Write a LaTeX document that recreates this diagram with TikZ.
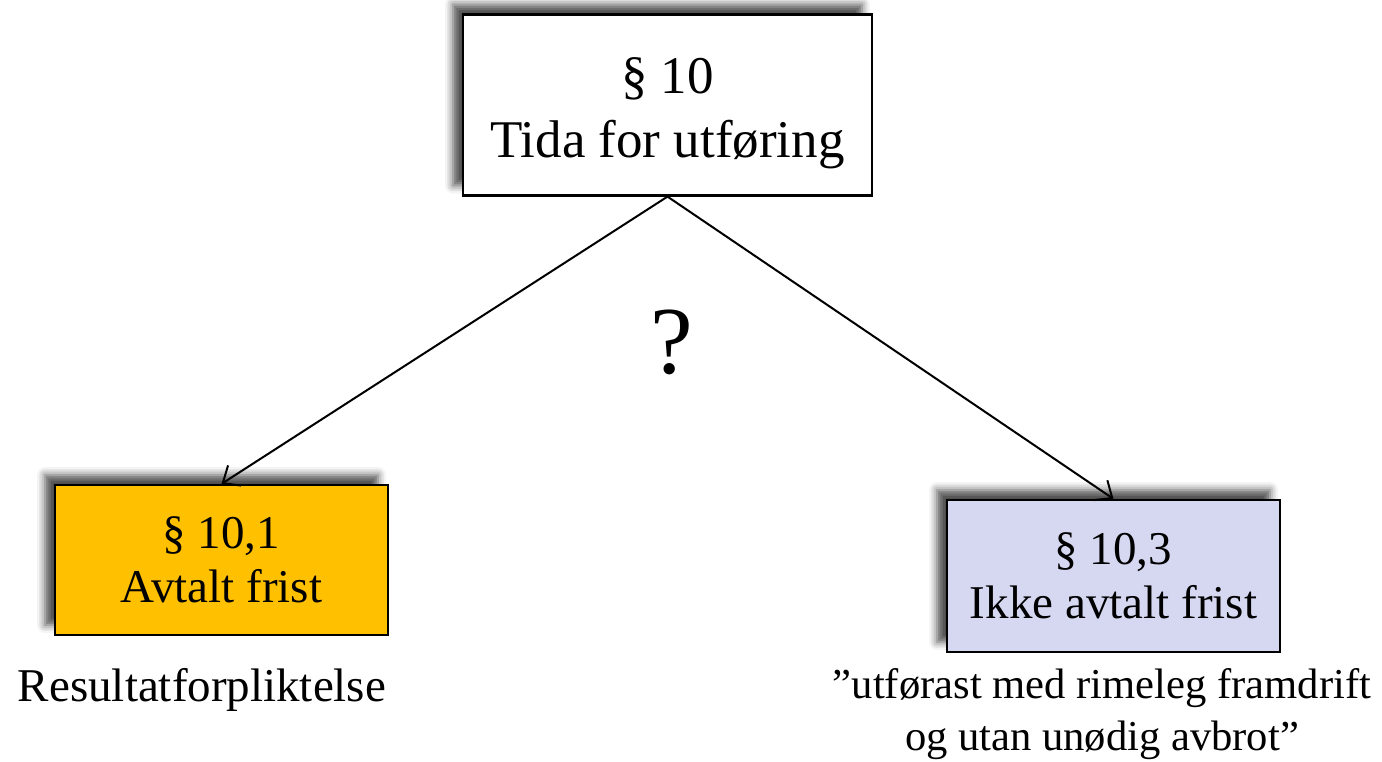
\documentclass[tikz,border=0pt]{standalone}
\usepackage{fontspec}
\setmainfont{Liberation Serif}
\usetikzlibrary{arrows.meta,shadows.blur}
\definecolor{amber}{RGB}{255,192,0}
\definecolor{lavender}{RGB}{214,216,242}
\tikzset{
  box/.style={draw=black, line width=1.1pt, align=center, inner sep=0pt,
    blur shadow={shadow xshift=-5pt, shadow yshift=5pt, shadow blur radius=4pt,
      shadow opacity=70}},
  link/.style={line width=1pt, -{Straight Barb[length=7pt,width=12pt,line width=1pt]}},
  note/.style={align=center, inner sep=0pt},
}
\begin{document}
\begin{tikzpicture}[x=0.5pt, y=-0.5pt]
  \useasboundingbox (0,0) rectangle (1382,761);
  % main question
  \node[box, fill=white, minimum width=204.5pt, minimum height=90.5pt,
        label={[note, font=\fontsize{26.5}{32}\selectfont, yshift=-4pt]center:§ 10\\Tida for utføring}]
        (top) at (667.5,105) {};
  % the two branches
  \node[box, fill=amber, minimum width=166.5pt, minimum height=75pt,
        font=\fontsize{23.5}{27}\selectfont] (left) at (221.5,560)
        {§ 10,1\\Avtalt frist};
  \node[box, fill=lavender, minimum width=166.5pt, minimum height=76pt,
        font=\fontsize{23.5}{27}\selectfont] (right) at (1113.5,576)
        {§ 10,3\\Ikke avtalt frist};
  \draw[link] (top.south) -- (left.north);
  \draw[link] (top.south) -- (right.north);
  \node[note, font=\fontsize{48}{52}\selectfont] (q) at (672,342) {?};
  % consequences
  \node[note, font=\fontsize{23.5}{27}\selectfont] (res) at (202,690)
        {Resultatforpliktelse};
  \node[note, font=\fontsize{21.3}{26}\selectfont] (quote) at (1102,714)
        {”utførast med rimeleg framdrift\\og utan unødig avbrot”};
\end{tikzpicture}
\end{document}
